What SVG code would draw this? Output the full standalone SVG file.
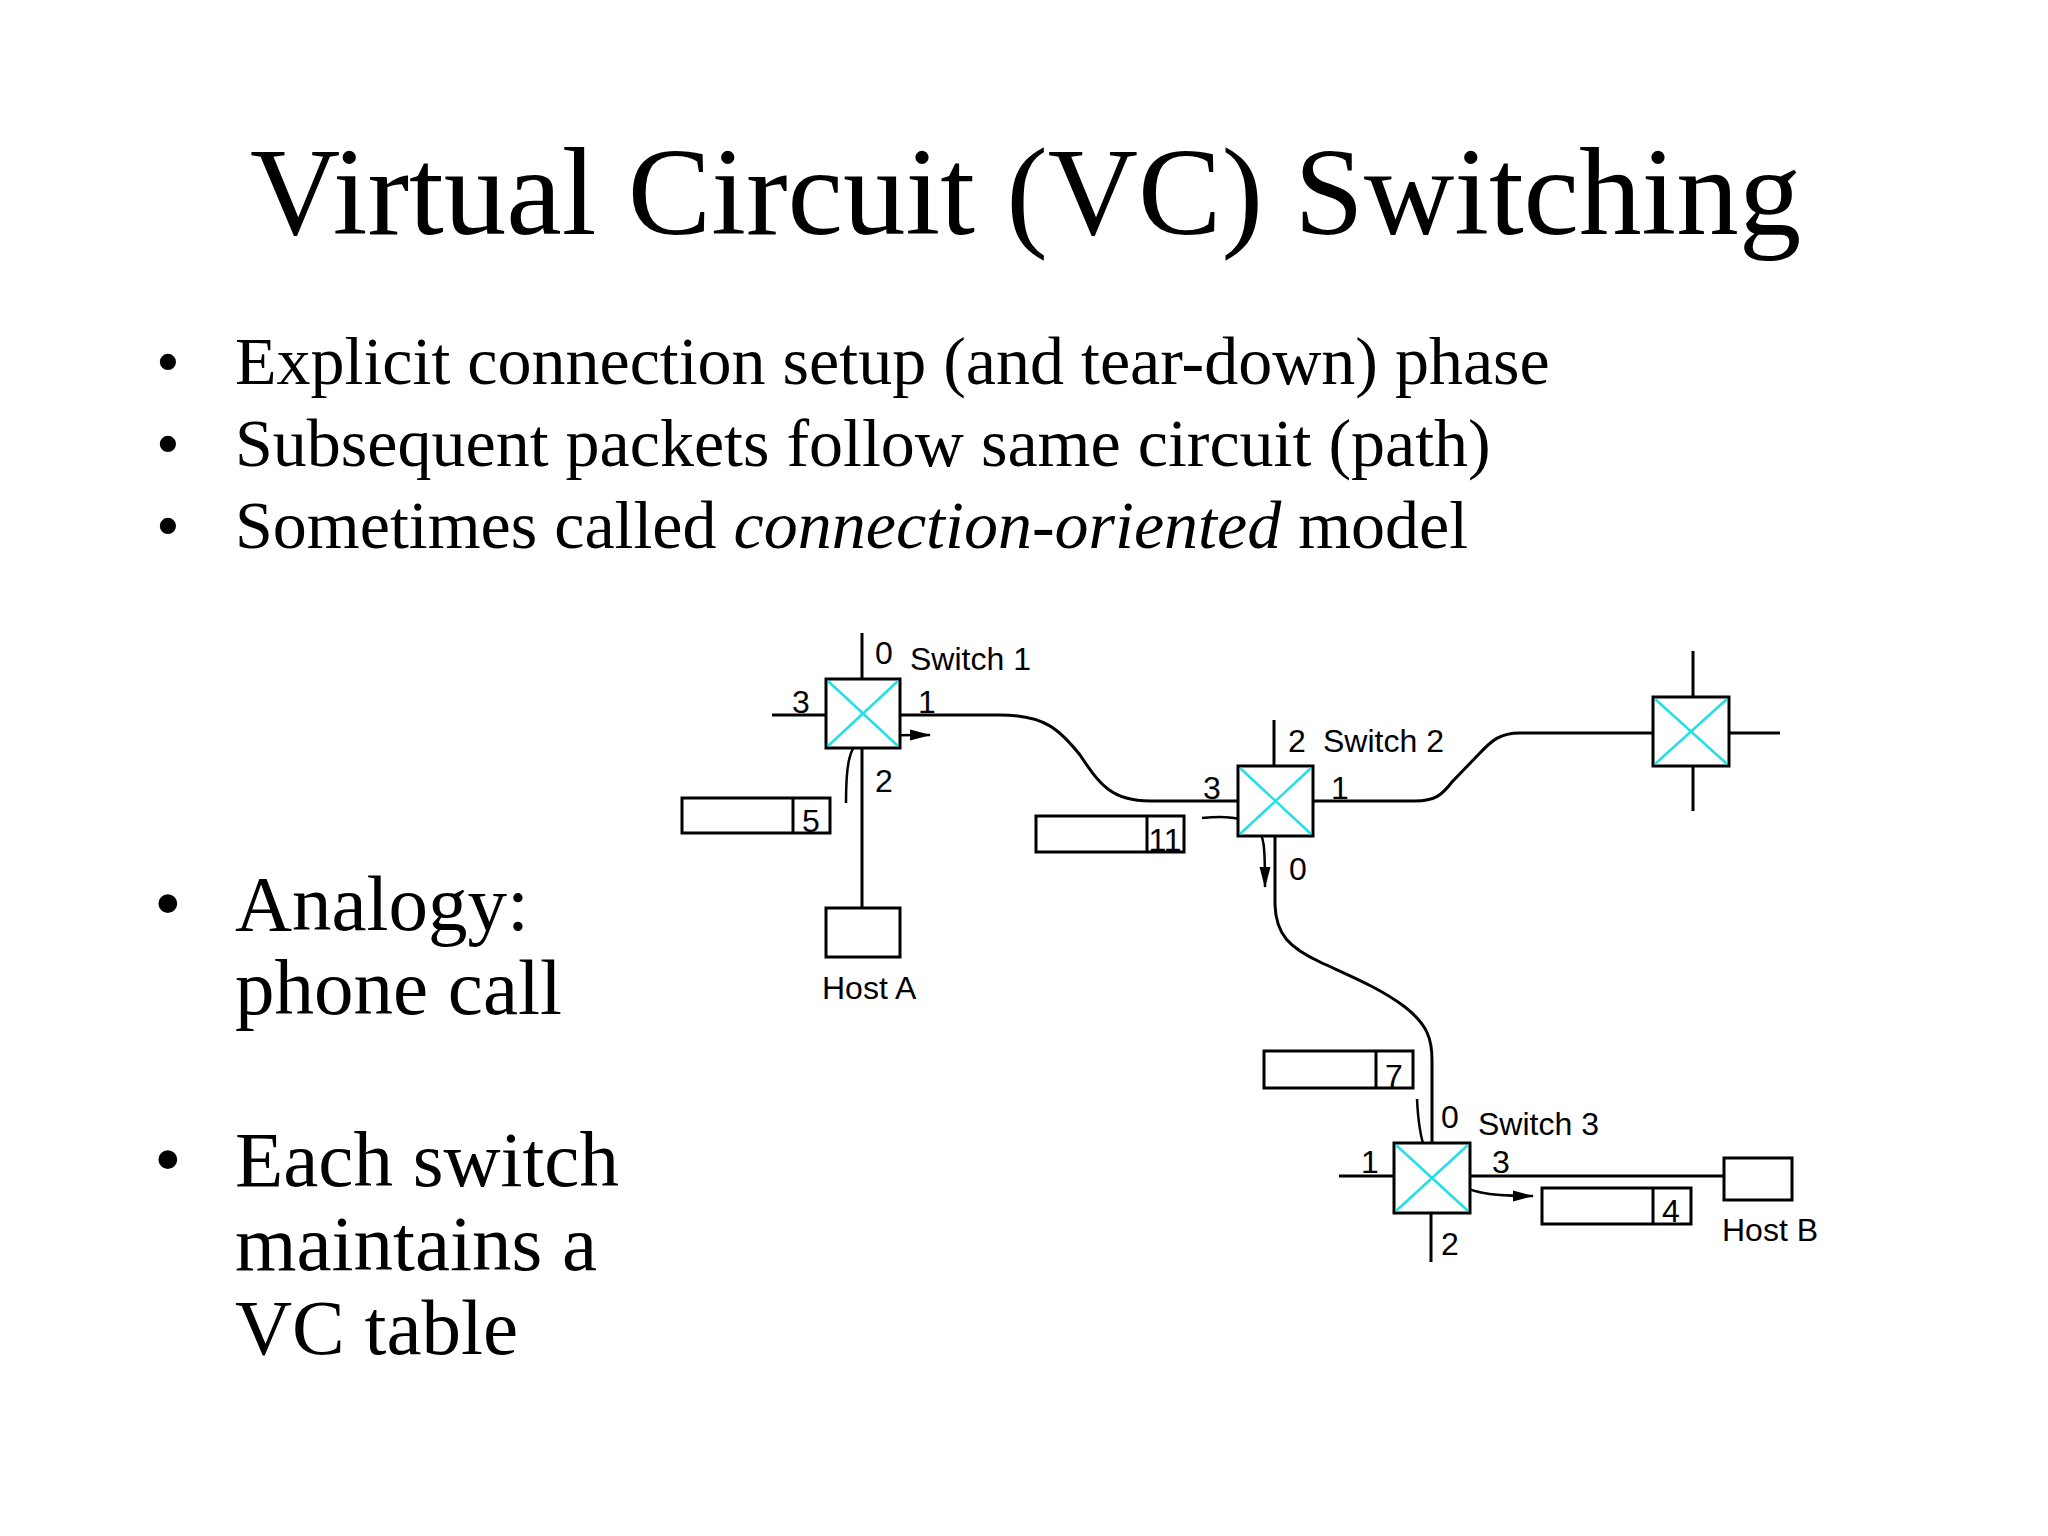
<svg xmlns="http://www.w3.org/2000/svg" width="2048" height="1536" viewBox="0 0 2048 1536">
<defs>
<style>
.serif{font-family:"Liberation Serif","Times New Roman",serif;fill:#000}
.lbl{font-family:"Liberation Sans",Arial,sans-serif;font-size:32px;fill:#000}
.ln{stroke:#000;stroke-width:3;fill:none}
.arr{stroke:#000;stroke-width:2.5;fill:none;marker-end:url(#ah)}
.box{stroke:#000;stroke-width:3;fill:#fff}
.x{stroke:#22e0e6;stroke-width:2.5}
</style>
<marker id="ah" markerUnits="userSpaceOnUse" markerWidth="22" markerHeight="12" refX="20" refY="6" orient="auto" viewBox="0 0 22 12">
<path d="M0,0.5 L21,6 L0,11.5 z" fill="#000"/>
</marker>
</defs>
<rect width="2048" height="1536" fill="#fff"/>

<text class="serif" x="250" y="234" font-size="125">Virtual Circuit (VC) Switching</text>

<g id="bullets" class="serif" font-size="68">
<text x="156" y="384">•</text>
<text x="235" y="384">Explicit connection setup (and tear-down) phase</text>
<text x="156" y="466">•</text>
<text x="235" y="466">Subsequent packets follow same circuit (path)</text>
<text x="156" y="548">•</text>
<text x="235" y="548">Sometimes called <tspan font-style="italic">connection-oriented</tspan> model</text>
</g>
<g id="bullets2" class="serif" font-size="79">
<text x="154" y="930">•</text>
<text x="235" y="930">Analogy:</text>
<text x="235" y="1014">phone call</text>
<text x="154" y="1186">•</text>
<text x="235" y="1186">Each switch</text>
<text x="235" y="1270">maintains a</text>
<text x="235" y="1354">VC table</text>
</g>

<g id="connectors">
<path class="ln" d="M900,715 H1000 C1045,715 1060,730 1080,755 C1100,785 1112,801 1150,801 H1238"/>
<path class="ln" d="M1313,801 H1415 C1435,801 1442,795 1452,782 L1478,755 C1492,740 1500,733 1520,733 H1653"/>
<path class="ln" d="M1275,836 V905 C1276,935 1290,948 1320,962 C1350,976 1380,988 1405,1007 C1428,1025 1432,1040 1432,1060 V1143"/>
<path class="ln" d="M862,748 V908"/>
<path class="ln" d="M1470,1176 H1724"/>
<path class="arr" d="M846,803 C846,770 848,746 862,739 C870,735 880,735 930,735"/>
<path class="arr" d="M1202,818 C1220,816 1245,816 1257,828 C1264,836 1265,845 1265,887"/>
<path class="arr" d="M1417,1099 C1419,1140 1425,1165 1450,1180 C1470,1192 1485,1196 1533,1196"/>
</g>

<g id="switch1">
<path class="ln" d="M862,633 V679 M772,715 H826"/>
<rect class="box" x="826" y="679" width="74" height="69"/>
<path class="x" d="M828,681 L898,746 M898,681 L828,746"/>
<text class="lbl" x="875" y="664">0</text>
<text class="lbl" x="910" y="670">Switch 1</text>
<text class="lbl" x="792" y="713">3</text>
<text class="lbl" x="918" y="713">1</text>
<text class="lbl" x="875" y="792">2</text>
</g>

<g id="switch2">
<path class="ln" d="M1274,720 V766"/>
<rect class="box" x="1238" y="766" width="75" height="70"/>
<path class="x" d="M1240,768 L1311,834 M1311,768 L1240,834"/>
<text class="lbl" x="1288" y="752">2</text>
<text class="lbl" x="1323" y="752">Switch 2</text>
<text class="lbl" x="1203" y="799">3</text>
<text class="lbl" x="1331" y="799">1</text>
<text class="lbl" x="1289" y="880">0</text>
</g>

<g id="switch4">
<path class="ln" d="M1693,651 V697 M1693,766 V811 M1729,733 H1780"/>
<rect class="box" x="1653" y="697" width="76" height="69"/>
<path class="x" d="M1655,699 L1727,764 M1727,699 L1655,764"/>
</g>

<g id="switch3">
<path class="ln" d="M1339,1176 H1394 M1431,1213 V1262"/>
<rect class="box" x="1394" y="1143" width="76" height="70"/>
<path class="x" d="M1396,1145 L1468,1211 M1468,1145 L1396,1211"/>
<text class="lbl" x="1441" y="1128">0</text>
<text class="lbl" x="1478" y="1135">Switch 3</text>
<text class="lbl" x="1361" y="1173">1</text>
<text class="lbl" x="1492" y="1173">3</text>
<text class="lbl" x="1441" y="1255">2</text>
</g>

<g id="hostA">
<rect class="box" x="826" y="908" width="74" height="49"/>
<text class="lbl" x="822" y="999">Host A</text>
</g>
<g id="hostB">
<rect class="box" x="1724" y="1158" width="68" height="42"/>
<text class="lbl" x="1722" y="1241">Host B</text>
</g>

<g id="packet5">
<rect class="box" x="682" y="798" width="148" height="35"/>
<path class="ln" d="M793,798 V833"/>
<text class="lbl" x="811" y="832" text-anchor="middle">5</text>
</g>
<g id="packet11">
<rect class="box" x="1036" y="816" width="148" height="36"/>
<path class="ln" d="M1147,816 V852"/>
<text class="lbl" x="1165" y="851" text-anchor="middle">11</text>
</g>
<g id="packet7">
<rect class="box" x="1264" y="1051" width="149" height="37"/>
<path class="ln" d="M1376,1051 V1088"/>
<text class="lbl" x="1394" y="1087" text-anchor="middle">7</text>
</g>
<g id="packet4">
<rect class="box" x="1542" y="1188" width="149" height="36"/>
<path class="ln" d="M1653,1188 V1224"/>
<text class="lbl" x="1671" y="1222" text-anchor="middle">4</text>
</g>
</svg>
